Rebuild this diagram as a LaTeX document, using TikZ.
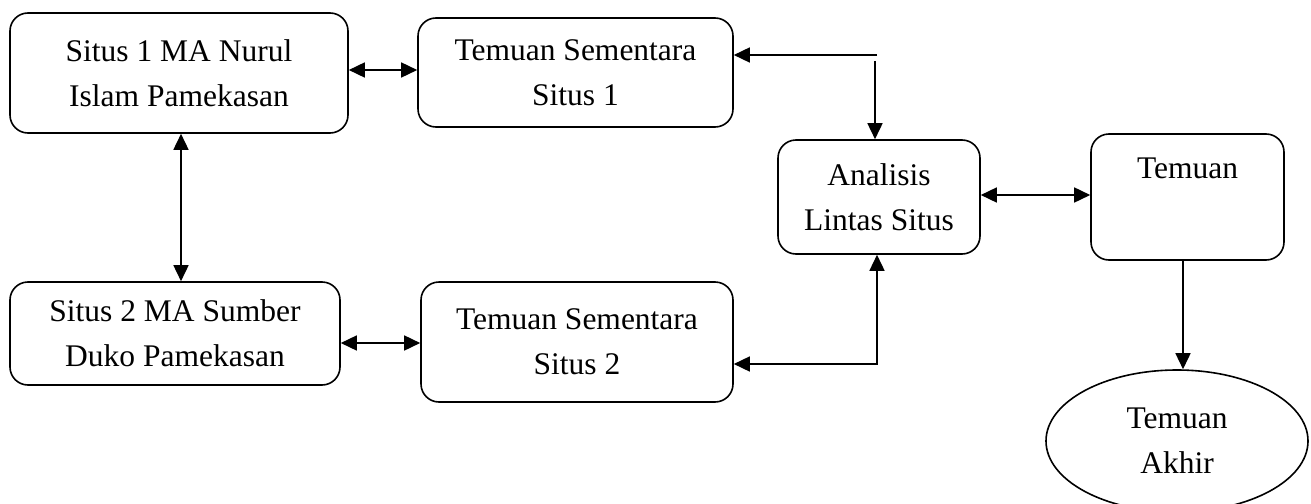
\documentclass[tikz,border=0pt]{standalone}
\usepackage{fontspec}
\setmainfont{Liberation Serif}
\usetikzlibrary{arrows.meta,shapes.geometric}
\begin{document}
\begin{tikzpicture}[x=1pt,y=-1pt,
  every node/.style={font=\fontsize{31.5}{45}\selectfont, align=center},
  box/.style={draw, line width=1.6pt, rounded corners=18pt, inner sep=0pt},
  conn/.style={line width=1.6pt, {Triangle[length=16pt,width=15pt]}-{Triangle[length=16pt,width=15pt]}},
  oneway/.style={line width=1.6pt, -{Triangle[length=16pt,width=15pt]}}]
\useasboundingbox (0,0) rectangle (1311,503);
\begin{scope}
\clip (0,0) rectangle (1311,503);
\node[box, minimum width=338pt, minimum height=120pt] (A) at (179,73) {Situs 1 MA Nurul\\Islam Pamekasan};
\node[box, minimum width=315pt, minimum height=109pt] (B) at (575.5,72.5) {Temuan Sementara\\Situs 1};
\node[box, minimum width=330pt, minimum height=103pt] (C) at (175,333.5) {Situs 2 MA Sumber\\Duko Pamekasan};
\node[box, minimum width=312pt, minimum height=120pt] (D) at (577,342) {Temuan Sementara\\Situs 2};
\node[box, minimum width=202pt, minimum height=114pt] (E) at (879,197) {Analisis\\Lintas Situs};
\node[box, minimum width=193pt, minimum height=126pt,
  label={[anchor=north,yshift=-21pt]north:Temuan}] (F) at (1187.5,197) {};
\node[draw, line width=1.6pt, ellipse, minimum width=262pt, minimum height=142pt, inner sep=0pt] (G) at (1177,441) {Temuan\\Akhir};
\coordinate (T1) at (877,55);
\coordinate (T2) at (875,61);
\draw[conn] (A.east |- 0,70) -- (B.west |- 0,70);
\draw[conn] (A.south -| 181,0) -- (C.north -| 181,0);
\draw[conn] (C.east |- 0,343) -- (D.west |- 0,343);
\draw[oneway] (T1) -- (B.east |- T1);
\draw[oneway] (T2) -- (E.north -| T2);
\draw[conn] (E.south -| 877,0) -- (877,364) -- (D.east |- 0,364);
\draw[conn] (E.east |- 0,195) -- (F.west |- 0,195);
\draw[oneway] (F.south -| 1183,0) -- (G.north -| 1183,0);
\end{scope}
\end{tikzpicture}
\end{document}
